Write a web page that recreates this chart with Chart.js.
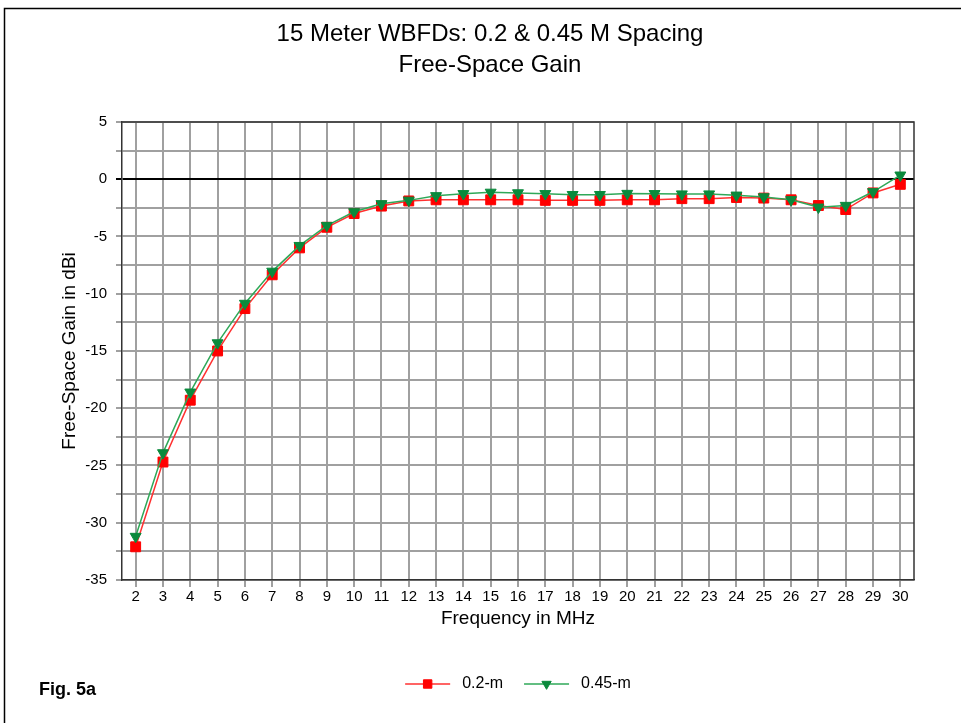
<!DOCTYPE html>
<html><head><meta charset="utf-8">
<style>html,body{margin:0;padding:0;background:#fff;}canvas{display:block;}</style>
<script src="https://cdn.jsdelivr.net/npm/chart.js@4.4.1/dist/chart.umd.min.js"></script>
</head><body>
<canvas id="c" width="961" height="723"></canvas>
<script>
// ---- data ----
const frequencies = ['2','3','4','5','6','7','8','9','10','11','12','13','14','15','16','17','18','19','20','21','22','23','24','25','26','27','28','29','30'];
const gain02m  = [-32.1,-24.7,-19.3,-15.0,-11.3,-8.35,-6.0,-4.2,-3.0,-2.35,-1.9,-1.8,-1.8,-1.8,-1.8,-1.85,-1.85,-1.85,-1.8,-1.8,-1.7,-1.7,-1.6,-1.65,-1.8,-2.3,-2.65,-1.2,-0.45];
const gain045m = [-31.2,-23.9,-18.6,-14.3,-10.85,-8.05,-5.8,-4.05,-2.85,-2.15,-1.85,-1.45,-1.27,-1.15,-1.2,-1.27,-1.35,-1.35,-1.25,-1.27,-1.3,-1.3,-1.4,-1.55,-1.8,-2.45,-2.3,-1.1,0.35];
const seriesLabels = ['0.2-m','0.45-m'];
const titleLines = ['15 Meter WBFDs: 0.2 & 0.45 M Spacing','Free-Space Gain'];
const xTitle = 'Frequency in MHz';
const yTitle = 'Free-Space Gain in dBi';
const figLabel = 'Fig. 5a';
const yMin = -35, yMax = 5, yStep = 2.5, yLabelStep = 5;

const FONT = "'Liberation Sans', Arial, sans-serif";
Chart.defaults.font.family = FONT;
Chart.defaults.color = '#000';

const framePlugin = {
  id: 'frame',
  beforeDraw(chart) {
    const ctx = chart.ctx;
    ctx.save(); ctx.fillStyle = '#fff'; ctx.fillRect(0, 0, chart.width, chart.height); ctx.restore();
  },
  beforeDatasetsDraw(chart) {
    const {ctx, chartArea: a} = chart;
    ctx.save();
    ctx.strokeStyle = '#333'; ctx.lineWidth = 1.5;
    ctx.beginPath(); ctx.moveTo(a.left, a.top); ctx.lineTo(a.right, a.top); ctx.lineTo(a.right, a.bottom); ctx.stroke();
    ctx.restore();
  },
  afterDraw(chart) {
    const {ctx, chartArea: a} = chart;
    ctx.save();
    // outer frame
    ctx.strokeStyle = '#000'; ctx.lineWidth = 1.5;
    ctx.beginPath(); ctx.moveTo(4.5, chart.height); ctx.lineTo(4.5, 8.5); ctx.lineTo(chart.width, 8.5); ctx.stroke();
    // fig label
    ctx.fillStyle = '#000'; ctx.font = "bold 18px " + FONT; ctx.textBaseline = 'middle'; ctx.textAlign = 'left';
    ctx.fillText(figLabel, 39, 690);
    // legend
    ctx.font = "16px " + FONT;
    const lineLen = 45, gapText = 12, gapItem = 21, ly = 684;
    const ds = chart.data.datasets;
    const widths = ds.map(d => ctx.measureText(d.label).width);
    let total = 0; widths.forEach((w, i) => { total += lineLen + gapText + w + (i ? gapItem : 0); });
    let x = (a.left + a.right) / 2 - total / 2;
    ds.forEach((d, i) => {
      ctx.strokeStyle = d.borderColor; ctx.lineWidth = d.borderWidth;
      ctx.beginPath(); ctx.moveTo(x, ly); ctx.lineTo(x + lineLen, ly); ctx.stroke();
      ctx.fillStyle = d.pointBackgroundColor; ctx.strokeStyle = d.pointBorderColor; ctx.lineWidth = 1;
      Chart.helpers.drawPoint(ctx, {pointStyle: d.pointStyle, rotation: d.pointRotation || 0, radius: d.pointRadius * 0.85, borderWidth: 1}, x + lineLen / 2, ly);
      ctx.fillStyle = '#000';
      ctx.fillText(d.label, x + lineLen + gapText, ly);
      x += lineLen + gapText + widths[i] + gapItem;
    });
    ctx.restore();
  }
};

new Chart(document.getElementById('c'), {
  type: 'line',
  data: {
    labels: frequencies,
    datasets: [
      { label: seriesLabels[0], data: gain02m, order: 1,
        borderColor: '#ff3030', borderWidth: 1.5,
        pointStyle: 'rect', pointRadius: 7, pointBackgroundColor: '#ff0000', pointBorderColor: '#ff0000', pointBorderWidth: 1 },
      { label: seriesLabels[1], data: gain045m, order: 0,
        borderColor: '#2fa858', borderWidth: 1.5,
        pointStyle: 'triangle', pointRotation: 180, pointRadius: 6.3, pointBackgroundColor: '#0a8a3c', pointBorderColor: '#0a8a3c', pointBorderWidth: 1 }
    ]
  },
  options: {
    responsive: false, animation: false, devicePixelRatio: 1,
    elements: { line: { tension: 0 } },
    layout: { padding: { left: 66, right: 47, top: 0, bottom: 92.6 } },
    plugins: {
      legend: { display: false },
      tooltip: { enabled: false },
      title: { display: true, text: titleLines, color: '#000',
        font: { size: 24, weight: 'normal', lineHeight: 1.29 },
        padding: { top: 18.5, bottom: 41.5 } }
    },
    scales: {
      x: {
        type: 'category', offset: true,
        grid: { offset: false, color: '#a0a0a0', lineWidth: 2, tickLength: 7, drawTicks: true },
        border: { display: true, color: '#333', width: 1.5 },
        ticks: { font: { size: 15 }, padding: 1, maxRotation: 0, autoSkip: false, color: '#000' },
        title: { display: true, text: xTitle, font: { size: 19 }, padding: { top: 0, bottom: 0 }, color: '#000' },
        afterFit(s) { s.height = 50.4; }
      },
      y: {
        min: yMin, max: yMax,
        grid: { color: c => (c.tick && c.tick.value === 0) ? '#000' : '#a0a0a0', lineWidth: 2, tickLength: 6, drawTicks: true },
        border: { display: true, color: '#333', width: 1.5 },
        ticks: { stepSize: yStep, font: { size: 15 }, padding: 9, color: '#000',
          callback: v => (Math.abs(v % yLabelStep) < 1e-9 ? String(v) : '') },
        title: { display: true, text: yTitle, font: { size: 19 }, padding: { top: -7.4, bottom: 0 }, color: '#000' },
        afterFit(s) { s.width = 56; }
      }
    }
  },
  plugins: [framePlugin]
});
</script>
</body></html>
